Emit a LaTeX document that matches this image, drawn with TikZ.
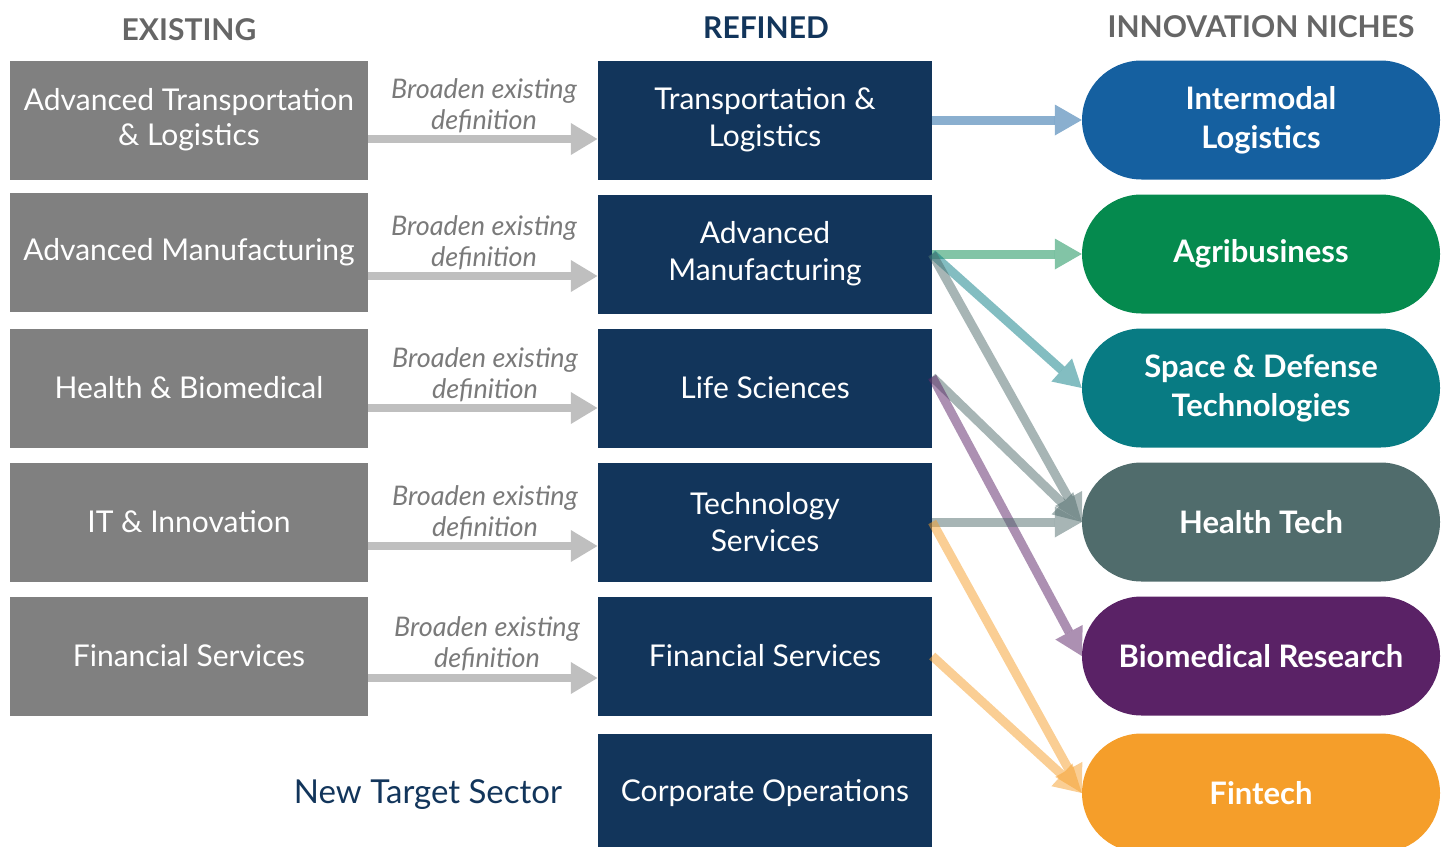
\documentclass[tikz,border=0pt]{standalone}
\usepackage{fontspec}
\setmainfont{Lato}
\usetikzlibrary{arrows.meta}

\definecolor{oldgrey}{HTML}{808080}
\definecolor{navy}{HTML}{12355B}
\definecolor{headgrey}{HTML}{666666}
\definecolor{notegrey}{HTML}{7A7A7A}
\definecolor{cblue}{HTML}{1560A0}
\definecolor{cgreen}{HTML}{058A4E}
\definecolor{cteal}{HTML}{087B83}
\definecolor{cslate}{HTML}{506C6C}
\definecolor{cpurple}{HTML}{5A2266}
\definecolor{corange}{HTML}{F59E2A}

\tikzset{
	oldbox/.style={fill=oldgrey, text=white, minimum width=358pt, minimum height=119pt, align=center, font=\fontsize{30}{35}\selectfont},
	newbox/.style={fill=navy, text=white, minimum width=334pt, minimum height=119pt, align=center, font=\fontsize{30}{37}\selectfont},
	niche/.style={fill=#1, text=white, minimum width=358pt, minimum height=119pt, rounded corners=59.5pt, align=center, font=\bfseries\fontsize{31}{39}\selectfont},
	head/.style={font=\bfseries\fontsize{30}{32}\selectfont, text=#1},
	note/.style={text=notegrey, align=center, font=\itshape\fontsize{27}{31}\selectfont},
	widen/.style={draw=black!25, line width=8pt, -{Triangle[width=30pt,length=27pt]}},
	link/.style={draw=#1, opacity=0.5, line width=9pt, -{Triangle[width=31pt,length=27pt,line width=0pt]}}
}

\begin{document}
\begin{tikzpicture}[x=1pt, y=-1pt]
	\clip (0,0) rectangle (1445,846);

	\node[head=headgrey] (he) at (189,30) {EXISTING};
	\node[head=navy] (hr) at (766,28) {REFINED};
	\node[head=headgrey] (hn) at (1261,27) {INNOVATION NICHES};

	\node[oldbox] (e1) at (189,120) {Advanced Transportation\\\& Logistics};
	\node[oldbox] (e2) at (189,252) {Advanced Manufacturing};
	\node[oldbox] (e3) at (189,388) {Health \& Biomedical};
	\node[oldbox] (e4) at (189,522) {IT \& Innovation};
	\node[oldbox] (e5) at (189,656) {Financial Services};

	\node[newbox] (r1) at (765,120) {Transportation \&\\Logistics};
	\node[newbox] (r2) at (765,254) {Advanced\\Manufacturing};
	\node[newbox] (r3) at (765,388) {Life Sciences};
	\node[newbox] (r4) at (765,522) {Technology\\Services};
	\node[newbox] (r5) at (765,656) {Financial Services};
	\node[newbox] (r6) at (765,793) {Corporate Operations};

	\node[niche=cblue] (n1) at (1261,120) {Intermodal\\Logistics};
	\node[niche=cgreen] (n2) at (1261,254) {Agribusiness};
	\node[niche=cteal] (n3) at (1261,388) {Space \& Defense\\Technologies};
	\node[niche=cslate] (n4) at (1261,522) {Health Tech};
	\node[niche=cpurple] (n5) at (1261,656) {Biomedical Research};
	\node[niche=corange] (n6) at (1261,793) {Fintech};

	\node[note] (b1) at (484,106) {Broaden existing\\definition};
	\node[note] (b2) at (484,243) {Broaden existing\\definition};
	\node[note] (b3) at (485,375) {Broaden existing\\definition};
	\node[note] (b4) at (485,513) {Broaden existing\\definition};
	\node[note] (b5) at (487,644) {Broaden existing\\definition};

	\node[text=navy, font=\fontsize{33}{36}\selectfont] (nts) at (428,795) {New Target Sector};

	\path
	([yshift=-19pt]e1.east) edge[widen] ([yshift=-19pt]e1.east -| r1.west)
	([yshift=-24pt]e2.east) edge[widen] ([yshift=-24pt]e2.east -| r2.west)
	([yshift=-20pt]e3.east) edge[widen] ([yshift=-20pt]e3.east -| r3.west)
	([yshift=-24pt]e4.east) edge[widen] ([yshift=-24pt]e4.east -| r4.west)
	([yshift=-22pt]e5.east) edge[widen] ([yshift=-22pt]e5.east -| r5.west);

	\path
	(r1.east) edge[link=cblue] (n1.west)
	(r2.east) edge[link=cgreen] (n2.west)
	(r2.east) edge[link=cteal] (n3.west)
	(r2.east) edge[link=cslate] (n4.west)
	([yshift=11pt]r3.east) edge[link=cslate] (n4.west)
	([yshift=11pt]r3.east) edge[link=cpurple] (n5.west)
	(r4.east) edge[link=cslate] (n4.west)
	(r4.east) edge[link=corange] (n6.west)
	(r5.east) edge[link=corange] (n6.west);
\end{tikzpicture}
\end{document}
